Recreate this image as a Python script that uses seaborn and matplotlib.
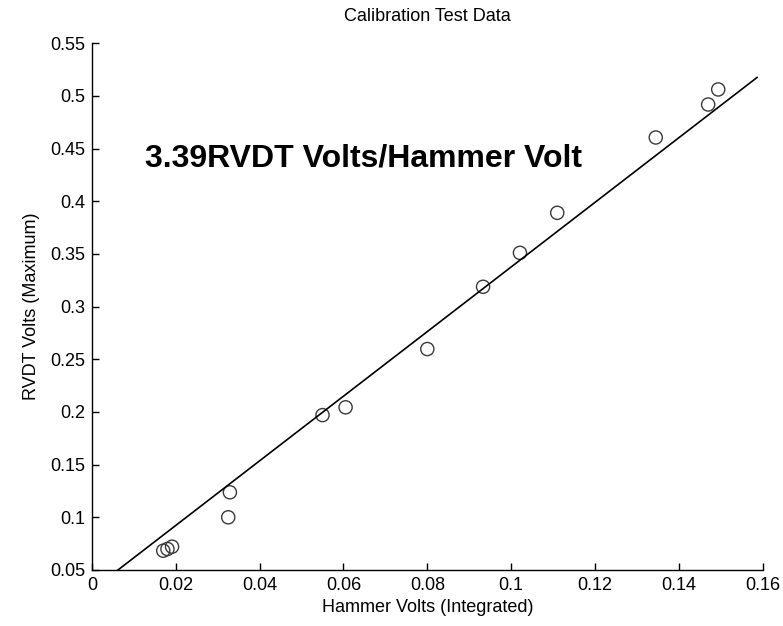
import numpy as np
import pandas as pd
import matplotlib
matplotlib.use("Agg")
import matplotlib.pyplot as plt
import seaborn as sns

# Calibration data
hammer_volts = [0.0170, 0.0180, 0.0191, 0.0325, 0.0329, 0.0550, 0.0605,
                0.0800, 0.0933, 0.1021, 0.1110, 0.1345, 0.1470, 0.1494]
rvdt_volts = [0.0683, 0.0699, 0.0721, 0.1000, 0.1237, 0.1970, 0.2044,
              0.2597, 0.3188, 0.3510, 0.3890, 0.4605, 0.4918, 0.5061]

# Fit line as drawn
fit_slope = 3.066
fit_intercept = 0.031
fit_x = [0.0, 0.1587]

x_ticks = [0, 0.02, 0.04, 0.06, 0.08, 0.1, 0.12, 0.14, 0.16]
y_ticks = [0.05, 0.1, 0.15, 0.2, 0.25, 0.3, 0.35, 0.4, 0.45, 0.5, 0.55]

df = pd.DataFrame({"hammer": hammer_volts, "rvdt": rvdt_volts})
fit_df = pd.DataFrame({"x": fit_x})
fit_df["y"] = fit_slope * fit_df["x"] + fit_intercept

sns.set_style("ticks")
plt.rcParams["font.family"] = ["Liberation Sans", "DejaVu Sans"]
plt.rcParams["text.color"] = "black"
plt.rcParams["axes.labelcolor"] = "black"

fig = plt.figure(figsize=(7.83, 6.26), dpi=100)
ax = fig.add_axes([0.1175, 0.0895, 0.8565, 0.8415])

sns.lineplot(data=fit_df, x="x", y="y", color="black", linewidth=1.2, ax=ax)
sns.scatterplot(data=df, x="hammer", y="rvdt", marker="o", s=90,
                facecolors="none", edgecolor="#3a3a3a", linewidth=1.0, ax=ax)

ax.set_xlim(0, 0.16)
ax.set_ylim(0.05, 0.55)
ax.set_xticks(x_ticks)
ax.set_xticklabels(["0", "0.02", "0.04", "0.06", "0.08", "0.1", "0.12", "0.14", "0.16"])
ax.set_yticks(y_ticks)
ax.set_yticklabels(["0.05", "0.1", "0.15", "0.2", "0.25", "0.3", "0.35", "0.4",
                    "0.45", "0.5", "0.55"])
ax.tick_params(direction="in", length=5, width=1, labelsize=13, colors="black", pad=5)

sns.despine(ax=ax)
for side in ["left", "bottom"]:
    ax.spines[side].set_color("black")
    ax.spines[side].set_linewidth(1.0)

ax.set_xlabel("Hammer Volts (Integrated)", fontsize=13, labelpad=4, color="black")
ax.set_ylabel("RVDT Volts (Maximum)", fontsize=13, labelpad=7, color="black")
ax.set_title("Calibration Test Data", fontsize=13, pad=16, color="black")

ax.text(0.0126, 0.4326, "3.39RVDT Volts/Hammer Volt", fontsize=23,
        fontweight="bold", ha="left", va="baseline", color="black")

plt.savefig("out.png", dpi=100)
plt.close()
